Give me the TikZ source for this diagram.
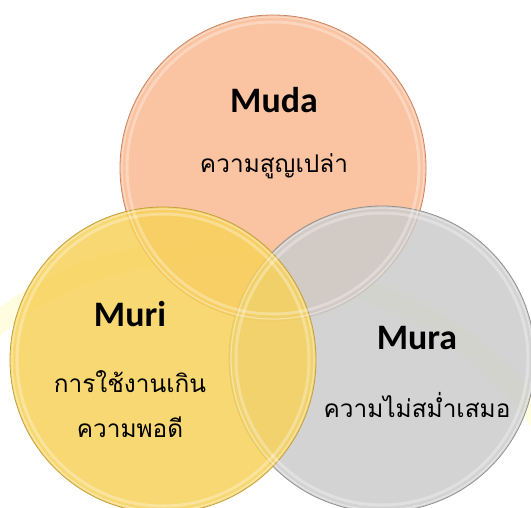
\documentclass[tikz,border=0pt]{standalone}
\usepackage{fontspec}
\setmainfont{Carlito}
\newfontfamily\thaifont[Script=Thai]{Loma}
\begin{document}
\begin{tikzpicture}[x=1bp,y=-1bp,
  bub/.style={circle,minimum size=306bp,inner sep=0pt,fill opacity=0.85,line width=0.8bp},
  title/.style={font=\bfseries\fontsize{36}{40}\selectfont,text=black},
  thai/.style={font=\thaifont\fontsize{24.5}{45}\selectfont,text=black,align=center}]
\useasboundingbox (0,0) rectangle (531,508);
\fill[white] (0,0) rectangle (531,508);
% faint watermark bands
\begin{scope}[opacity=0.6]
\draw[line width=22bp,color=yellow!20] (-10,330) .. controls (80,250) and (200,240) .. (300,260);
\draw[line width=22bp,color=yellow!20] (330,280) .. controls (420,300) and (500,360) .. (540,420);
\end{scope}
% circles
\node[bub,fill={rgb,255:red,250;green,185;blue,145},draw={rgb,255:red,200;green,135;blue,100}] (muda) at (273,168) {};
\node[bub,fill={rgb,255:red,204;green,204;blue,204},draw={rgb,255:red,145;green,145;blue,145}] (mura) at (382,359) {};
\node[bub,fill={rgb,255:red,247;green,210;blue,90},draw={rgb,255:red,195;green,160;blue,65}] (muri) at (163,360) {};
% bevel highlights
\foreach \c in {muda,mura,muri}{
  \draw[white,line width=3bp,opacity=0.3] (\c.center) circle[radius=146bp];
  \draw[white,line width=1.2bp,opacity=0.4] (\c.center) circle[radius=151bp];
}
% texts
\node[title] (tmuda) at (274,100) {Muda};
\node[thai] (smuda) at (274,166) {ความสูญเปล่า};
\node[title] (tmuri) at (130,314) {Muri};
\node[thai] (smuri) at (130,404) {การใช้งานเกิน\\ความพอดี};
\node[title] (tmura) at (417,338) {Mura};
\node[thai] (smura) at (417,405) {ความไม่สม่ำเสมอ};
\end{tikzpicture}
\end{document}
